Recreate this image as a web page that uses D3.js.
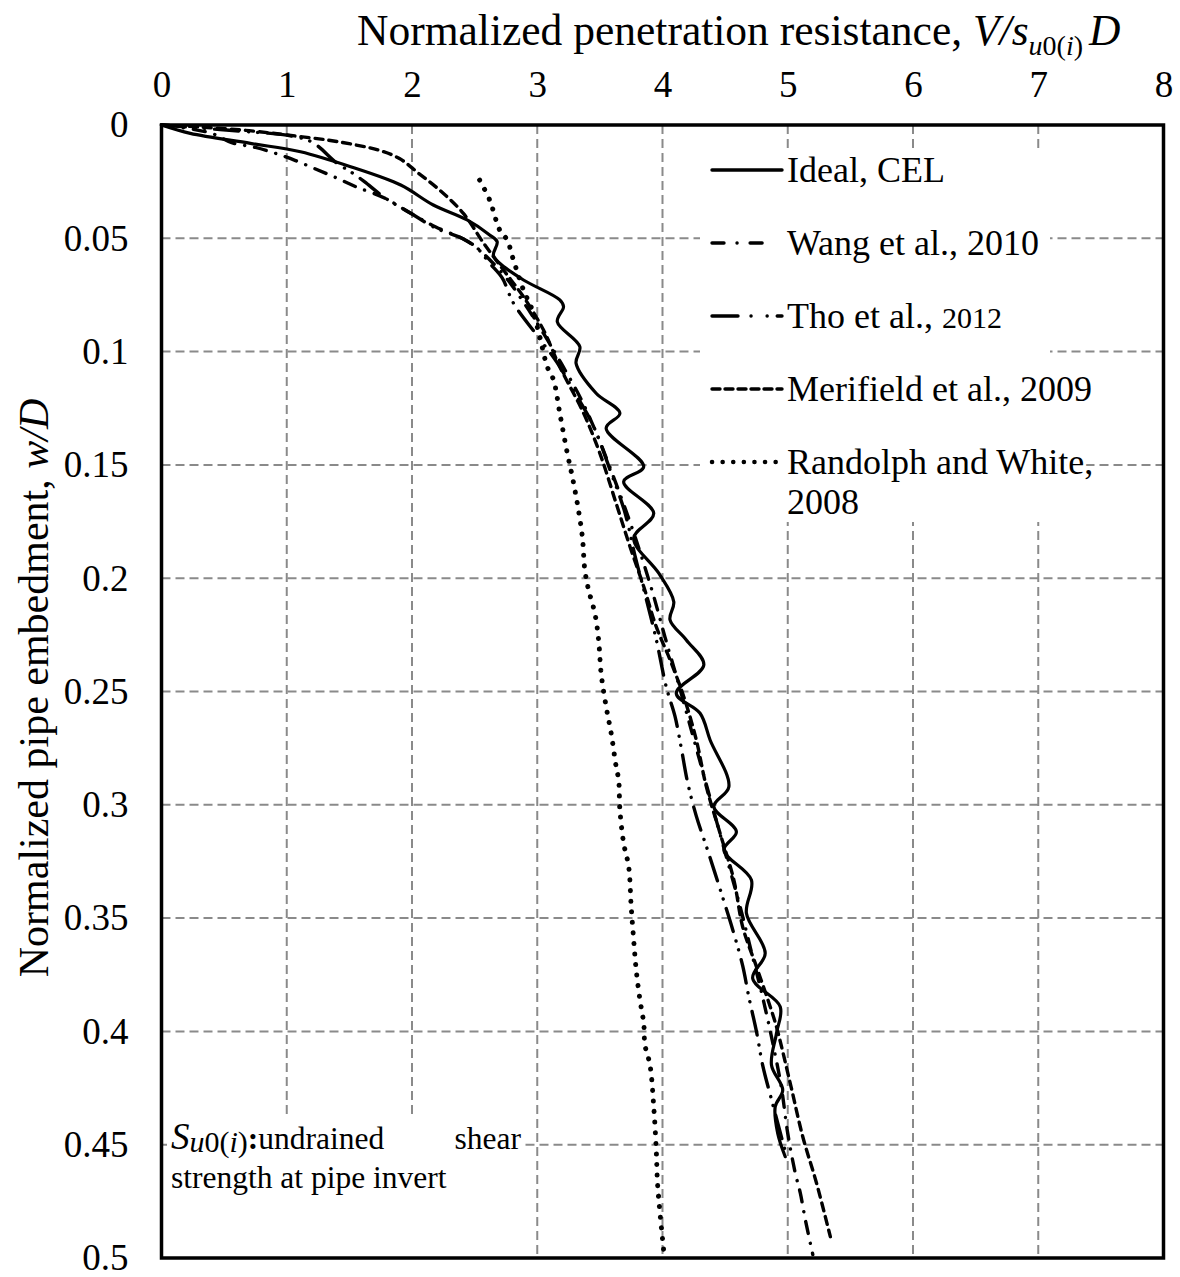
<!DOCTYPE html>
<html>
<head>
<meta charset="utf-8">
<script src="https://cdn.jsdelivr.net/npm/d3@7"></script>
<style>
  html, body { margin: 0; padding: 0; background: #fff; }
  svg { display: block; }
  text { font-family: "Liberation Serif", "Times New Roman", serif; fill: #000; }
</style>
</head>
<body>
<svg id="chart" width="1180" height="1277"></svg>
<script>
// ---------------- DATA ----------------
const xTicks = [0, 1, 2, 3, 4, 5, 6, 7, 8];
const yTicks = [0, 0.05, 0.1, 0.15, 0.2, 0.25, 0.3, 0.35, 0.4, 0.45, 0.5];

const seriesNames = ["Ideal, CEL", "Wang et al., 2010", "Tho et al., 2012", "Merifield et al., 2009", "Randolph and White, 2008"];

// [V/su0(i)D, w/D]
const idealCEL = [[0,0],[0.23,0.0037],[0.71,0.0081],[1.11,0.0118],[1.51,0.0184],[1.91,0.0265],[2.17,0.0353],[2.44,0.0419],[2.62,0.0485],[2.68,0.0515],[2.65,0.0575],[2.70,0.061],[2.89,0.0684],[3.18,0.0772],[3.21,0.0802],[3.16,0.0868],[3.34,0.0978],[3.31,0.1052],[3.47,0.1184],[3.66,0.1272],[3.55,0.1338],[3.85,0.1508],[3.69,0.1574],[3.93,0.1714],[3.77,0.1824],[3.97,0.1978],[4.09,0.2104],[4.06,0.2184],[4.19,0.2273],[4.33,0.2383],[4.11,0.2508],[4.30,0.2596],[4.38,0.2714],[4.53,0.292],[4.41,0.3008],[4.59,0.3119],[4.49,0.32],[4.71,0.3332],[4.67,0.3479],[4.82,0.3655],[4.72,0.3766],[4.94,0.3891],[4.91,0.4008],[4.87,0.4148],[4.96,0.4259],[4.90,0.4332],[4.92,0.445],[4.98,0.4553]];

const wang2010 = [[0,0],[0.39,0.0035],[0.56,0.0078],[0.75,0.0099],[0.91,0.0125],[1.07,0.0157],[1.23,0.0194],[1.39,0.0232],[1.55,0.0272],[1.78,0.0322],[2.0,0.0393],[2.19,0.045],[2.41,0.0503],[2.52,0.0543],[2.63,0.06],[2.76,0.068],[2.9,0.079],[3.05,0.092],[3.2,0.106],[3.35,0.121],[3.48,0.137],[3.6,0.154],[3.72,0.172],[3.83,0.19],[3.93,0.208],[4.02,0.226],[4.12,0.245],[4.22,0.265],[4.32,0.285],[4.42,0.305],[4.52,0.325],[4.62,0.345],[4.71,0.365],[4.8,0.385],[4.88,0.405],[4.95,0.425],[5.0,0.445],[5.06,0.4625],[5.10,0.4713],[5.14,0.483],[5.2,0.4985]];

const tho2012 = [[0,0],[0.35,0.0015],[0.7,0.003],[1.0,0.0045],[1.2,0.0075],[1.4,0.0168],[1.52,0.021],[1.62,0.025],[1.78,0.032],[2.0,0.0393],[2.19,0.0455],[2.41,0.0503],[2.52,0.0543],[2.62,0.061],[2.72,0.0675],[2.81,0.0786],[3.0,0.093],[3.16,0.105],[3.32,0.12],[3.45,0.133],[3.58,0.152],[3.70,0.171],[3.78,0.19],[3.86,0.207],[3.95,0.227],[4.03,0.248],[4.10,0.261],[4.15,0.275],[4.2,0.29],[4.27,0.305],[4.36,0.32],[4.47,0.339],[4.56,0.355],[4.64,0.371],[4.69,0.385],[4.75,0.4],[4.8,0.415],[4.87,0.43],[4.99,0.455]];

const merifield2009 = [[0,0],[0.31,0.0009],[0.7,0.0025],[1.0,0.0044],[1.32,0.0066],[1.55,0.0088],[1.74,0.0112],[1.9,0.0148],[2.05,0.0212],[2.22,0.0287],[2.41,0.039],[2.57,0.052],[2.73,0.064],[2.89,0.0758],[3.05,0.0905],[3.18,0.1067],[3.37,0.1272],[3.50,0.1449],[3.63,0.167],[3.74,0.186],[3.85,0.2037],[3.95,0.2214],[4.06,0.236],[4.17,0.2523],[4.27,0.2714],[4.35,0.292],[4.46,0.3126],[4.57,0.3332],[4.64,0.3538],[4.75,0.3714],[4.86,0.3891],[4.91,0.398],[5.02,0.4229],[5.12,0.4465],[5.23,0.467],[5.34,0.4906]];

const randolphWhite2008 = [[2.54,0.0243],[2.62,0.0331],[2.70,0.0463],[2.76,0.0508],[2.81,0.0596],[2.89,0.0728],[2.96,0.0816],[3.02,0.0934],[3.08,0.1067],[3.13,0.1125],[3.18,0.1272],[3.24,0.1449],[3.28,0.1552],[3.32,0.167],[3.36,0.1817],[3.38,0.1964],[3.41,0.2052],[3.46,0.2155],[3.49,0.2273],[3.51,0.242],[3.55,0.2567],[3.59,0.2684],[3.63,0.2832],[3.65,0.289],[3.66,0.3023],[3.69,0.317],[3.73,0.3273],[3.75,0.345],[3.77,0.3597],[3.79,0.3729],[3.82,0.3861],[3.85,0.3964],[3.86,0.406],[3.90,0.4148],[3.93,0.4332],[3.95,0.4523],[3.96,0.4669],[3.98,0.4801],[4.01,0.497]];

const allSeries = [idealCEL, wang2010, tho2012, merifield2009, randolphWhite2008];

// ---------------- STYLES ----------------
const lineStyles = [
  { width: 3.2, dash: null, legendDash: null, cap: "round" },
  { width: 3.4, dash: "12,10,0.1,10", legendDash: "12,13,0.1,13", cap: "round" },
  { width: 3.4, dash: "24,10,0.1,9,0.1,10", legendDash: "26,13,0.1,16,0.1,10", cap: "round" },
  { width: 3.4, dash: "8,6", legendDash: "8,5", cap: "round" },
  { width: 5, dash: "0.1,10.5", legendDash: "0.1,10.5", cap: "round" }
];

const svg = d3.select("#chart");
const L = 161.5, R = 1163.5, T = 125, B = 1258;
const x = d3.scaleLinear().domain([0, 8]).range([L, R]);
const y = d3.scaleLinear().domain([0, 0.5]).range([T, B]);

// grid
const grid = svg.append("g").attr("stroke", "#8a8a8a").attr("stroke-width", 2).attr("stroke-dasharray", "9,5");
grid.selectAll("line.v").data(xTicks.slice(1, -1)).join("line")
  .attr("x1", d => x(d)).attr("x2", d => x(d)).attr("y1", T).attr("y2", B);
grid.selectAll("line.h").data(yTicks.slice(1, -1)).join("line")
  .attr("x1", L).attr("x2", R).attr("y1", d => y(d)).attr("y2", d => y(d));

// white boxes (legend and annotation)
svg.append("rect").attr("x", 700).attr("y", 152).attr("width", 350).attr("height", 370).attr("fill", "#fff");
svg.append("rect").attr("x", 167).attr("y", 1118).attr("width", 358).attr("height", 138).attr("fill", "#fff");

// series
const line = d3.line().x(d => x(d[0])).y(d => y(d[1])).curve(d3.curveCatmullRom.alpha(0.5));
const plot = svg.append("g");
allSeries.forEach((s, i) => {
  const st = lineStyles[i];
  plot.append("path").datum(s)
    .attr("d", line)
    .attr("fill", "none")
    .attr("stroke", "#000")
    .attr("stroke-width", st.width)
    .attr("stroke-linecap", st.cap)
    .attr("stroke-linejoin", "round")
    .attr("stroke-dasharray", st.dash);
});

// frame
svg.append("rect").attr("x", L).attr("y", T).attr("width", R - L).attr("height", B - T)
  .attr("fill", "none").attr("stroke", "#000").attr("stroke-width", 3.5);

// axes
const xAxis = svg.append("g").attr("transform", `translate(0,${T})`)
  .call(d3.axisTop(x).tickValues(xTicks).tickSize(0).tickPadding(28).tickFormat(d => String(d)));
xAxis.select(".domain").remove();
xAxis.selectAll("text").attr("font-size", 37).attr("font-family", "Liberation Serif");

const yAxis = svg.append("g").attr("transform", `translate(${L},0)`)
  .call(d3.axisLeft(y).tickValues(yTicks).tickSize(0).tickPadding(33).tickFormat(d => String(+d.toFixed(2))));
yAxis.select(".domain").remove();
yAxis.selectAll("text").attr("font-size", 37).attr("font-family", "Liberation Serif");

// x title
const xt = svg.append("text").attr("x", 357).attr("y", 45).attr("font-size", 43.5);
xt.append("tspan").text("Normalized penetration resistance, ");
xt.append("tspan").attr("font-style", "italic").text("V/s");
xt.append("tspan").attr("font-size", 28).attr("font-style", "italic").attr("dy", 10).text("u");
xt.append("tspan").attr("font-size", 28).text("0(");
xt.append("tspan").attr("font-size", 28).attr("font-style", "italic").text("i");
xt.append("tspan").attr("font-size", 28).text(")");
xt.append("tspan").attr("font-style", "italic").attr("dy", -10).attr("dx", 6).text("D");

// y title
const yt = svg.append("text").attr("transform", "translate(48,688) rotate(-90)")
  .attr("text-anchor", "middle").attr("font-size", 42);
yt.append("tspan").text("Normalized pipe embedment, ");
yt.append("tspan").attr("font-style", "italic").text("w/D");

// legend
const legendY = [170, 243, 316, 389, 462];
const lg = svg.append("g");
seriesNames.forEach((name, i) => {
  const st = lineStyles[i];
  const lw = i === 1 ? 58 : 70;
  lg.append("line").attr("x1", 712).attr("x2", 712 + lw).attr("y1", legendY[i]).attr("y2", legendY[i])
    .attr("stroke", "#000").attr("stroke-width", i === 4 ? 4.5 : 3.4)
    .attr("stroke-linecap", st.cap)
    .attr("stroke-dasharray", st.legendDash);
  const t = lg.append("text").attr("x", 787).attr("y", legendY[i] + 12).attr("font-size", 36)
    .attr("stroke", "#fff").attr("stroke-width", 6).attr("paint-order", "stroke");
  if (i === 2) {
    t.append("tspan").text("Tho et al., ");
    t.append("tspan").attr("font-size", 30).text("2012");
  } else if (i === 4) {
    t.append("tspan").text("Randolph and White,");
    t.append("tspan").attr("x", 787).attr("dy", 40).text("2008");
  } else {
    t.text(name);
  }
});

// annotation
const an = svg.append("text").attr("x", 171).attr("y", 1149).attr("font-size", 31.5);
an.append("tspan").attr("font-style", "italic").attr("font-size", 37).text("S");
an.append("tspan").attr("font-style", "italic").attr("font-size", 30).attr("dy", 3).text("u");
an.append("tspan").attr("font-size", 30).text("0(");
an.append("tspan").attr("font-style", "italic").attr("font-size", 30).text("i");
an.append("tspan").attr("font-size", 30).text(")");
an.append("tspan").attr("font-weight", "bold").attr("dy", -3).text(":");
an.append("tspan").text("undrained");
svg.append("text").attr("x", 521).attr("y", 1149).attr("font-size", 31.5).attr("text-anchor", "end").text("shear");
svg.append("text").attr("x", 171).attr("y", 1188).attr("font-size", 31.5).text("strength at pipe invert");
</script>
</body>
</html>
